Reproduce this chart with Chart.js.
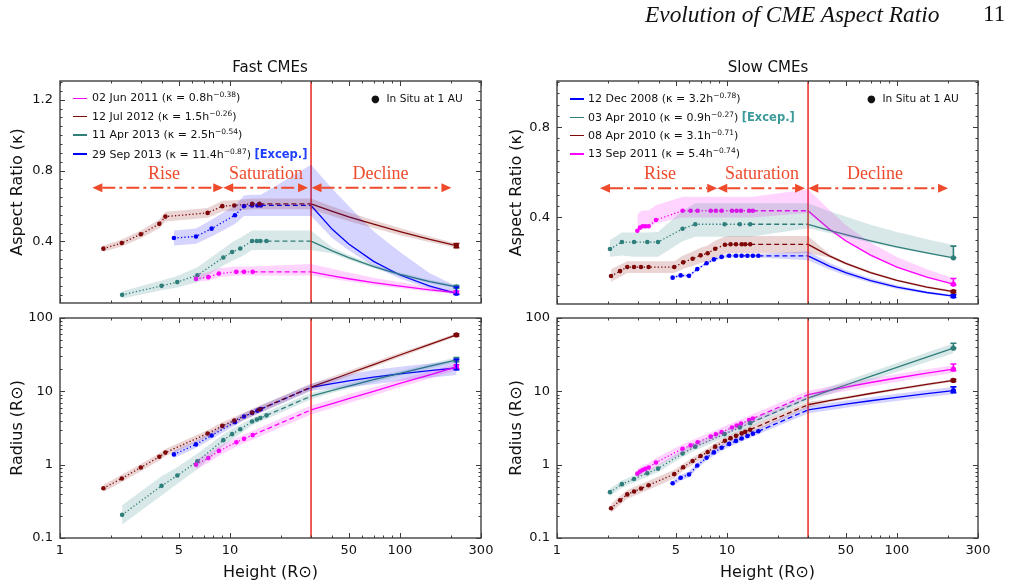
<!DOCTYPE html>
<html><head><meta charset="utf-8">
<script src="https://cdn.jsdelivr.net/npm/chart.js@4.4.1/dist/chart.umd.min.js"></script>
<style>
html,body{margin:0;padding:0;background:#fff;}
#wrap{position:relative;width:1011px;height:586px;overflow:hidden;font-family:"DejaVu Sans",sans-serif;color:#111;}
#wrap canvas{position:absolute;left:0;top:0;}
.tx{position:absolute;white-space:nowrap;}
.tx sup{font-size:7.5px;vertical-align:0;position:relative;top:-4px;}
.ln{position:absolute;height:1.6px;width:14px;}
</style></head><body><div id="wrap">
<canvas id="cFastK" width="1011" height="586"></canvas>
<canvas id="cFastR" width="1011" height="586"></canvas>
<canvas id="cSlowK" width="1011" height="586"></canvas>
<canvas id="cSlowR" width="1011" height="586"></canvas>
</div>
<script>
// ---------------- DATA ----------------
const hTickValues = [1, 5, 10, 50, 100, 300];
const hTickLabels = ['1', '5', '10', '50', '100', '300'];
const fastKTickValues = [0.4, 0.8, 1.2];
const fastKTickLabels = ['0.4', '0.8', '1.2'];
const slowKTickValues = [0.4, 0.8];
const slowKTickLabels = ['0.4', '0.8'];
const rTickValues = [0.1, 1, 10, 100];
const rTickLabels = ['0.1', '1', '10', '100'];
const hMin = 1, hMax = 300;
const fastKMin = 0.052, fastKMax = 1.306;
const slowKMin = 0.015, slowKMax = 1.005;
const rMin = 0.1, rMax = 100;
const phaseBoundaryH = 30;
const declineH = [30, 40, 50, 70, 100, 150, 215];

const phaseNames = ['Rise', 'Saturation', 'Decline'];
const fastPhaseSpans = [[1.55, 9.13], [9.13, 28.8], [30.2, 201]];
const fastPhaseLabelH = [4.09, 16.3, 76.9];
const fastPhaseArrowK = 0.703, fastPhaseLabelK = 0.778;
const slowPhaseSpans = [[1.79, 8.77], [8.77, 28.8], [30.1, 200]];
const slowPhaseLabelH = [4.04, 16.1, 74.3];
const slowPhaseArrowK = 0.529, slowPhaseLabelK = 0.592;

const fastEvents = ['02 Jun 2011', '12 Jul 2012', '11 Apr 2013', '29 Sep 2013'];
const fastFitCoef = ['0.8', '1.5', '2.5', '11.4'];
const fastFitExp = ['−0.38', '−0.26', '−0.54', '−0.87'];
const fastExceptional = [false, false, false, true];
const slowEvents = ['12 Dec 2008', '03 Apr 2010', '08 Apr 2010', '13 Sep 2011'];
const slowFitCoef = ['3.2', '0.9', '3.1', '5.4'];
const slowFitExp = ['−0.78', '−0.27', '−0.71', '−0.74'];
const slowExceptional = [false, true, false, false];

// Fast: 02 Jun 2011
const f1H = [6.31, 7.46, 8.61, 10.9, 12.1, 13.6];
const f1K = [0.188, 0.198, 0.218, 0.228, 0.228, 0.228];
const f1KDec = [0.228, 0.205, 0.189, 0.167, 0.147, 0.126, 0.111];
const f1R = [1.00, 1.23, 1.54, 2.02, 2.25, 2.53];
const f1RDec = [5.57, 6.80, 7.95, 10.0, 12.8, 16.8, 21.5];
const f1KUp = [0.025, 0.028, 0.03, 0.03, 0.03, 0.03, 0.045, 0.04, 0.035, 0.028, 0.022, 0.016, 0.012];
const f1KDn = [0.015, 0.02, 0.02, 0.02, 0.02, 0.02, 0.02, 0.018, 0.016, 0.014, 0.012, 0.01, 0.008];
const f1RF = [1.16, 1.16, 1.16, 1.15, 1.15, 1.15, 1.15, 1.15, 1.15, 1.14, 1.13, 1.12, 1.1];
const f1KErr = [0.008, 0.008], f1RErr = [1.5, 1.0];
// Fast: 12 Jul 2012
const f2H = [1.80, 2.31, 2.99, 3.84, 4.17, 7.39, 9.01, 10.6, 13.5, 14.9];
const f2K = [0.359, 0.391, 0.44, 0.499, 0.54, 0.561, 0.599, 0.603, 0.612, 0.612];
const f2KDec = [0.612, 0.570, 0.539, 0.497, 0.455, 0.411, 0.376];
const f2R = [0.476, 0.649, 0.914, 1.28, 1.46, 2.66, 3.38, 3.99, 5.13, 5.66];
const f2RDec = [11.4, 14.5, 17.5, 23.2, 31.3, 43.7, 58.8];
const f2KUp = [0.018, 0.02, 0.022, 0.025, 0.028, 0.028, 0.03, 0.03, 0.03, 0.03, 0.03, 0.027, 0.025, 0.022, 0.02, 0.016, 0.012];
const f2KDn = [0.018, 0.02, 0.022, 0.025, 0.028, 0.028, 0.03, 0.03, 0.03, 0.03, 0.03, 0.027, 0.025, 0.022, 0.02, 0.016, 0.012];
const f2RF = [1.12, 1.12, 1.12, 1.12, 1.12, 1.12, 1.12, 1.12, 1.12, 1.12, 1.1, 1.1, 1.09, 1.08, 1.07, 1.06, 1.05];
const f2KErr = [0.012, 0.012], f2RErr = [2, 2];
// Fast: 11 Apr 2013
const f3H = [2.32, 3.96, 4.90, 6.43, 9.14, 10.3, 11.5, 13.5, 14.4, 15.1, 16.4];
const f3K = [0.098, 0.149, 0.170, 0.209, 0.309, 0.340, 0.360, 0.402, 0.402, 0.402, 0.402];
const f3KDec = [0.402, 0.346, 0.308, 0.258, 0.214, 0.173, 0.143];
const f3R = [0.207, 0.514, 0.712, 1.11, 2.16, 2.61, 3.04, 3.87, 4.13, 4.33, 4.70];
const f3RDec = [8.60, 10.3, 11.8, 14.4, 17.6, 22.1, 26.9];
const f3KUp = [0.02, 0.03, 0.035, 0.045, 0.05, 0.055, 0.06, 0.06, 0.06, 0.06, 0.06, 0.06, 0.02, 0.015, 0.012, 0.01, 0.01, 0.01];
const f3KDn = [0.02, 0.025, 0.03, 0.04, 0.045, 0.05, 0.05, 0.05, 0.05, 0.05, 0.05, 0.05, 0.015, 0.012, 0.01, 0.01, 0.008, 0.008];
const f3RF = [1.35, 1.35, 1.3, 1.28, 1.2, 1.18, 1.15, 1.12, 1.12, 1.12, 1.12, 1.1, 1.08, 1.08, 1.08, 1.08, 1.08, 1.08];
const f3KErr = [0.008, 0.008], f3RErr = [2, 1.5];
// Fast: 29 Sep 2013
const f4H = [4.68, 6.31, 7.80, 10.7, 12.1, 13.5, 14.5, 15.2];
const f4K = [0.419, 0.428, 0.472, 0.548, 0.599, 0.603, 0.603, 0.603];
const f4KDec = [0.603, 0.468, 0.385, 0.287, 0.210, 0.147, 0.107];
const f4R = [1.38, 1.89, 2.50, 3.79, 4.53, 5.08, 5.45, 5.72];
const f4RDec = [11.3, 12.75, 13.9, 15.6, 17.3, 19.2, 20.8];
const f4KUp = [0.042, 0.045, 0.05, 0.055, 0.06, 0.06, 0.06, 0.06, 0.23, 0.23, 0.215, 0.17, 0.13, 0.073, 0.04];
const f4KDn = [0.042, 0.042, 0.045, 0.05, 0.055, 0.06, 0.06, 0.06, 0.06, 0.05, 0.035, 0.027, 0.02, 0.015, 0.01];
const f4RF = [1.12, 1.12, 1.12, 1.12, 1.12, 1.12, 1.12, 1.12, 1.12, 1.18, 1.22, 1.25, 1.25, 1.25, 1.25];
const f4KErr = [0.035, 0.006], f4RErr = [6.5, 1];

// Slow: 12 Dec 2008
const s1H = [4.79, 5.34, 5.98, 6.69, 7.59, 8.38, 9.30, 10.3, 11.3, 12.2, 13.2, 14.2, 15.3];
const s1K = [0.132, 0.142, 0.140, 0.170, 0.196, 0.213, 0.224, 0.229, 0.229, 0.229, 0.229, 0.229, 0.229];
const s1KDec = [0.229, 0.183, 0.154, 0.119, 0.090, 0.066, 0.050];
const s1R = [0.559, 0.664, 0.734, 0.972, 1.24, 1.47, 1.70, 1.92, 2.11, 2.27, 2.46, 2.65, 2.85];
const s1RDec = [5.59, 6.19, 6.67, 7.44, 8.28, 9.29, 10.2];
const s1KUp = [0.006, 0.006, 0.006, 0.006, 0.006, 0.007, 0.008, 0.008, 0.008, 0.008, 0.008, 0.008, 0.008, 0.02, 0.015, 0.012, 0.01, 0.008, 0.006, 0.005];
const s1KDn = [0.006, 0.006, 0.006, 0.006, 0.006, 0.007, 0.008, 0.008, 0.008, 0.008, 0.008, 0.008, 0.008, 0.02, 0.015, 0.012, 0.01, 0.008, 0.006, 0.005];
const s1RF = [1.1, 1.1, 1.1, 1.1, 1.1, 1.1, 1.1, 1.1, 1.1, 1.1, 1.1, 1.1, 1.1, 1.12, 1.12, 1.12, 1.12, 1.12, 1.12, 1.12];
const s1KErr = [0.006, 0.006], s1RErr = [1.3, 0.6];
// Slow: 03 Apr 2010
const s2H = [2.05, 2.41, 2.84, 3.40, 3.93, 5.48, 6.51, 9.69, 11.9, 13.7];
const s2K = [0.259, 0.290, 0.290, 0.290, 0.290, 0.349, 0.369, 0.369, 0.369, 0.369];
const s2KDec = [0.369, 0.342, 0.323, 0.295, 0.269, 0.242, 0.220];
const s2R = [0.422, 0.542, 0.638, 0.764, 0.883, 1.42, 1.76, 2.61, 3.21, 3.69];
const s2RDec = [8.09, 10.2, 12.2, 16.0, 21.2, 29.2, 38.8];
const s2KUp = [0.04, 0.042, 0.042, 0.042, 0.045, 0.08, 0.093, 0.093, 0.093, 0.093, 0.093, 0.085, 0.08, 0.072, 0.066, 0.06, 0.057];
const s2KDn = [0.034, 0.06, 0.065, 0.065, 0.065, 0.055, 0.055, 0.055, 0.055, 0.055, 0.018, 0.012, 0.01, 0.008, 0.006, 0.004, 0.003];
const s2RF = [1.12, 1.12, 1.12, 1.12, 1.12, 1.12, 1.12, 1.12, 1.12, 1.12, 1.1, 1.12, 1.13, 1.14, 1.15, 1.16, 1.17];
const s2KErr = [0.052, 0.0], s2RErr = [6.4, 0];
// Slow: 08 Apr 2010
const s3H = [2.08, 2.35, 2.59, 2.84, 3.12, 3.46, 4.90, 5.53, 6.28, 7.00, 7.70, 8.53, 9.73, 10.5, 11.3, 12.2, 12.8, 13.7];
const s3K = [0.139, 0.161, 0.179, 0.179, 0.179, 0.179, 0.179, 0.200, 0.216, 0.231, 0.240, 0.260, 0.278, 0.280, 0.280, 0.280, 0.280, 0.280];
const s3KDec = [0.280, 0.229, 0.195, 0.154, 0.120, 0.090, 0.070];
const s3R = [0.254, 0.326, 0.393, 0.431, 0.474, 0.525, 0.744, 0.922, 1.12, 1.31, 1.49, 1.76, 2.12, 2.30, 2.47, 2.67, 2.80, 3.00];
const s3RDec = [6.56, 7.45, 8.16, 9.34, 10.7, 12.4, 14.1];
const s3KUp = [0.03, 0.028, 0.026, 0.026, 0.026, 0.026, 0.026, 0.03, 0.032, 0.034, 0.035, 0.036, 0.037, 0.037, 0.037, 0.037, 0.037, 0.037, 0.037, 0.008, 0.007, 0.006, 0.005, 0.005, 0.005];
const s3KDn = [0.025, 0.026, 0.026, 0.026, 0.026, 0.026, 0.026, 0.03, 0.032, 0.034, 0.036, 0.038, 0.04, 0.04, 0.04, 0.04, 0.04, 0.04, 0.04, 0.008, 0.007, 0.006, 0.005, 0.005, 0.005];
const s3RF = [1.15, 1.15, 1.15, 1.15, 1.15, 1.15, 1.15, 1.12, 1.12, 1.12, 1.12, 1.12, 1.12, 1.12, 1.12, 1.12, 1.12, 1.12, 1.1, 1.05, 1.05, 1.04, 1.04, 1.04, 1.04];
const s3KErr = [0.005, 0.005], s3RErr = [0.5, 0.5];
// Slow: 13 Sep 2011
const s4H = [2.97, 3.08, 3.19, 3.31, 3.46, 3.82, 5.48, 6.11, 6.72, 8.02, 8.61, 9.30, 10.7, 11.4, 12.1, 13.5, 14.2];
const s4K = [0.340, 0.354, 0.360, 0.360, 0.360, 0.388, 0.429, 0.429, 0.429, 0.429, 0.429, 0.429, 0.429, 0.429, 0.429, 0.429, 0.429];
const s4KDec = [0.429, 0.348, 0.296, 0.232, 0.179, 0.134, 0.103];
const s4R = [0.754, 0.805, 0.844, 0.876, 0.916, 1.07, 1.65, 1.83, 2.02, 2.41, 2.59, 2.79, 3.21, 3.42, 3.63, 4.05, 4.26];
const s4RDec = [9.01, 10.3, 11.4, 13.2, 15.2, 17.7, 20.1];
const s4KUp = [0.07, 0.07, 0.07, 0.07, 0.07, 0.065, 0.062, 0.062, 0.062, 0.062, 0.062, 0.062, 0.062, 0.062, 0.062, 0.062, 0.062, 0.095, 0.085, 0.07, 0.055, 0.045, 0.035, 0.026];
const s4KDn = [0.01, 0.01, 0.01, 0.01, 0.01, 0.015, 0.03, 0.03, 0.03, 0.03, 0.03, 0.03, 0.03, 0.03, 0.03, 0.03, 0.03, 0.01, 0.008, 0.006, 0.005, 0.004, 0.004, 0.004];
const s4RF = [1.15, 1.15, 1.15, 1.15, 1.15, 1.15, 1.15, 1.15, 1.15, 1.15, 1.15, 1.15, 1.15, 1.15, 1.15, 1.15, 1.15, 1.13, 1.13, 1.13, 1.13, 1.13, 1.13, 1.13];
const s4KErr = [0.025, 0.003], s4RErr = [3.5, 1];

// ---------------- STYLES ----------------
const C = {
  magenta: {line: '#ff00ff', band: 'rgba(255,0,255,0.17)'},
  maroon: {line: '#7d0a0a', band: 'rgba(128,0,0,0.17)'},
  teal: {line: '#2e7f7a', band: 'rgba(47,127,127,0.19)'},
  blue: {line: '#0000ff', band: 'rgba(0,0,255,0.17)'}
};
const fastSeries = [
  {h: f1H, k: f1K, kDec: f1KDec, r: f1R, rDec: f1RDec, kUp: f1KUp, kDn: f1KDn, rF: f1RF, kErr: f1KErr, rErr: f1RErr, c: C.magenta},
  {h: f2H, k: f2K, kDec: f2KDec, r: f2R, rDec: f2RDec, kUp: f2KUp, kDn: f2KDn, rF: f2RF, kErr: f2KErr, rErr: f2RErr, c: C.maroon},
  {h: f3H, k: f3K, kDec: f3KDec, r: f3R, rDec: f3RDec, kUp: f3KUp, kDn: f3KDn, rF: f3RF, kErr: f3KErr, rErr: f3RErr, c: C.teal},
  {h: f4H, k: f4K, kDec: f4KDec, r: f4R, rDec: f4RDec, kUp: f4KUp, kDn: f4KDn, rF: f4RF, kErr: f4KErr, rErr: f4RErr, c: C.blue}
];
const slowSeries = [
  {h: s1H, k: s1K, kDec: s1KDec, r: s1R, rDec: s1RDec, kUp: s1KUp, kDn: s1KDn, rF: s1RF, kErr: s1KErr, rErr: s1RErr, c: C.blue},
  {h: s2H, k: s2K, kDec: s2KDec, r: s2R, rDec: s2RDec, kUp: s2KUp, kDn: s2KDn, rF: s2RF, kErr: s2KErr, rErr: s2RErr, c: C.teal},
  {h: s3H, k: s3K, kDec: s3KDec, r: s3R, rDec: s3RDec, kUp: s3KUp, kDn: s3KDn, rF: s3RF, kErr: s3KErr, rErr: s3RErr, c: C.maroon},
  {h: s4H, k: s4K, kDec: s4KDec, r: s4R, rDec: s4RDec, kUp: s4KUp, kDn: s4KDn, rF: s4RF, kErr: s4KErr, rErr: s4RErr, c: C.magenta}
];
const FONT = '"DejaVu Sans", sans-serif';
Chart.defaults.font.family = FONT;

function buildDatasets(series, qty, yMin, yMax) {
  const bands = [], lines = [];
  series.forEach(s => {
    const hs = s.h.concat(declineH);
    const vs = qty === 'k' ? s.k.concat(s.kDec) : s.r.concat(s.rDec);
    const lo = vs.map((v, i) => qty === 'k' ? v - s.kDn[i] : v / s.rF[i]);
    const hi = vs.map((v, i) => qty === 'k' ? v + s.kUp[i] : v * s.rF[i]);
    const pts = a => hs.map((h, i) => ({x: h, y: a[i]}));
    bands.push({data: pts(lo), borderWidth: 0, pointRadius: 0, fill: false, borderColor: 'rgba(0,0,0,0)'});
    bands.push({data: pts(hi), borderWidth: 0, pointRadius: 0, fill: '-1', backgroundColor: s.c.band, borderColor: 'rgba(0,0,0,0)'});
    const nObs = s.h.length, lastObs = s.h[nObs - 1];
    lines.push({
      data: pts(vs), borderColor: s.c.line, backgroundColor: s.c.line, borderWidth: 1.3, fill: false,
      pointRadius: hs.map((h, i) => i < nObs ? 2.3 : (i === hs.length - 1 ? 2.6 : 0)),
      pointBorderWidth: 0, pointBackgroundColor: s.c.line,
      errBar: qty === 'k' ? s.kErr : s.rErr,
      segment: {borderDash: c => {
        const x1 = c.p1.parsed.x;
        if (x1 <= lastObs * 1.0001) return [1.3, 2.2];
        if (x1 <= phaseBoundaryH * 1.0001) return [5, 3];
        return [];
      }}
    });
  });
  const vline = {data: [{x: phaseBoundaryH, y: yMin}, {x: phaseBoundaryH, y: yMax}], borderColor: '#e8281e', borderWidth: 1.5, pointRadius: 0, fill: false};
  return bands.concat([vline], lines);
}

const errPlugin = {id: 'errBars', afterDatasetsDraw(chart) {
  const {ctx, scales: {x, y}} = chart;
  chart.data.datasets.forEach(ds => {
    if (!ds.errBar) return;
    const p = ds.data[ds.data.length - 1];
    const px = x.getPixelForValue(p.x);
    const yt = y.getPixelForValue(p.y + ds.errBar[0]);
    const yb = y.getPixelForValue(p.y - ds.errBar[1]);
    ctx.save(); ctx.strokeStyle = ds.borderColor; ctx.lineWidth = 1.6;
    ctx.beginPath(); ctx.moveTo(px, yt); ctx.lineTo(px, yb);
    ctx.moveTo(px - 3, yt); ctx.lineTo(px + 3, yt);
    ctx.moveTo(px - 3, yb); ctx.lineTo(px + 3, yb); ctx.stroke(); ctx.restore();
  });
}};

function framePlugin(o) { return {id: 'frame', afterDatasetsDraw(chart) {
  const {ctx, chartArea: a, scales: {x, y}} = chart;
  ctx.save(); ctx.strokeStyle = '#3a3a3a'; ctx.lineWidth = 1;
  const tickX = (v, L) => { const p = Math.round(x.getPixelForValue(v)) + 0.5; if (p < a.left - 1 || p > a.right + 1) return;
    ctx.beginPath(); ctx.moveTo(p, a.bottom); ctx.lineTo(p, a.bottom - L); ctx.moveTo(p, a.top); ctx.lineTo(p, a.top + L); ctx.stroke(); };
  const tickY = (v, L) => { const p = Math.round(y.getPixelForValue(v)) + 0.5; if (p < a.top - 1 || p > a.bottom + 1) return;
    ctx.beginPath(); ctx.moveTo(a.left, p); ctx.lineTo(a.left + L, p); ctx.moveTo(a.right, p); ctx.lineTo(a.right - L, p); ctx.stroke(); };
  hTickValues.forEach(v => tickX(v, 5));
  [1, 10, 100].forEach(d => { for (let m = 2; m <= 9; m++) { const v = m * d; if (v <= hMax && !hTickValues.includes(v)) tickX(v, 2.5); } });
  o.yTicks.forEach(v => tickY(v, 5));
  if (o.yType === 'logarithmic') {
    [0.1, 1, 10].forEach(d => { for (let m = 2; m <= 9; m++) tickY(m * d, 2.5); });
  } else {
    for (let i = Math.ceil(o.yMin / o.yMinor); i * o.yMinor <= o.yMax; i++) {
      const v = Math.round(i * o.yMinor * 1000) / 1000;
      if (!o.yTicks.some(t => Math.abs(t - v) < 1e-6)) tickY(v, 2.5);
    }
  }
  ctx.lineWidth = 1.4; ctx.strokeStyle = '#404040';
  ctx.strokeRect(a.left, a.top, a.right - a.left, a.bottom - a.top);
  ctx.restore();
}}; }

function phasePlugin(p) { return {id: 'phases', afterDatasetsDraw(chart) {
  const {ctx, scales: {x, y}} = chart;
  ctx.save();
  const col = '#ee4a2c'; ctx.strokeStyle = col; ctx.fillStyle = col; ctx.lineWidth = 2;
  const ya = y.getPixelForValue(p.arrowK), hl = 10;
  p.spans.forEach(([h1, h2]) => {
    const x1 = x.getPixelForValue(h1), x2 = x.getPixelForValue(h2);
    ctx.setLineDash([13, 4, 3, 4]); ctx.beginPath(); ctx.moveTo(x1 + hl, ya); ctx.lineTo(x2 - hl, ya); ctx.stroke(); ctx.setLineDash([]);
    [[x1, -1], [x2, 1]].forEach(([xx, d]) => { ctx.beginPath(); ctx.moveTo(xx, ya); ctx.lineTo(xx - d * hl, ya - 4.5); ctx.lineTo(xx - d * hl, ya + 4.5); ctx.closePath(); ctx.fill(); });
  });
  ctx.font = '18px "Liberation Serif", "Times New Roman", serif'; ctx.textAlign = 'center'; ctx.textBaseline = 'middle';
  const yl = y.getPixelForValue(p.labelK);
  phaseNames.forEach((t, i) => ctx.fillText(t, x.getPixelForValue(p.labelH[i]), yl));
  ctx.restore();
}}; }

function makeChart(id, o) {
  const datasets = buildDatasets(o.series, o.qty, o.yMin, o.yMax);
  const plugins = [framePlugin(o), errPlugin];
  if (o.phases) plugins.push(phasePlugin(o.phases));
  return new Chart(document.getElementById(id), {
    type: 'line', data: {datasets},
    options: {
      responsive: false, animation: false, events: [],
      layout: {padding: o.pad},
      elements: {line: {tension: 0}},
      plugins: {legend: {display: false}, tooltip: {enabled: false}, title: {display: false}},
      scales: {
        x: {type: 'logarithmic', position: 'bottom', min: hMin, max: hMax,
          grid: {display: false, drawTicks: false}, border: {display: false},
          afterBuildTicks: s => { s.ticks = hTickValues.map(v => ({value: v})); },
          afterFit: s => { s.height = o.xH; },
          ticks: {display: o.showX, autoSkip: false, maxRotation: 0, minRotation: 0, padding: 5, color: '#111', font: {size: 13},
            callback: v => { const i = hTickValues.indexOf(v); return i >= 0 ? hTickLabels[i] : ''; }},
          title: {display: o.showX, text: 'Height (R⊙)', color: '#111', font: {size: 16}, padding: {top: 0, bottom: 4}}},
        y: {type: o.yType, position: 'left', min: o.yMin, max: o.yMax,
          grid: {display: false, drawTicks: false}, border: {display: false},
          afterBuildTicks: s => { s.ticks = o.yTicks.map(v => ({value: v})); },
          afterFit: s => { s.width = 60; },
          ticks: {autoSkip: false, padding: 7, color: '#111', font: {size: 13},
            callback: v => { const i = o.yTicks.indexOf(v); return i >= 0 ? o.yLabels[i] : ''; }},
          title: {display: true, text: o.yTitle, color: '#111', font: {size: 16}, padding: {top: o.titlePad, bottom: 0}}}
      }
    },
    plugins
  });
}

makeChart('cFastK', {series: fastSeries, qty: 'k', yType: 'linear', yMin: fastKMin, yMax: fastKMax, yMinor: 0.05,
  yTicks: fastKTickValues, yLabels: fastKTickLabels, yTitle: 'Aspect Ratio (κ)', titlePad: 8,
  pad: {left: 0, top: 81, right: 530, bottom: 283}, xH: 0, showX: false,
  phases: {spans: fastPhaseSpans, labelH: fastPhaseLabelH, arrowK: fastPhaseArrowK, labelK: fastPhaseLabelK}});
makeChart('cFastR', {series: fastSeries, qty: 'r', yType: 'logarithmic', yMin: rMin, yMax: rMax,
  yTicks: rTickValues, yLabels: rTickLabels, yTitle: 'Radius (R⊙)', titlePad: 8,
  pad: {left: 0, top: 318, right: 530, bottom: 0}, xH: 48, showX: true});
makeChart('cSlowK', {series: slowSeries, qty: 'k', yType: 'linear', yMin: slowKMin, yMax: slowKMax, yMinor: 0.05,
  yTicks: slowKTickValues, yLabels: slowKTickLabels, yTitle: 'Aspect Ratio (κ)', titlePad: 10,
  pad: {left: 497, top: 81, right: 33, bottom: 282}, xH: 0, showX: false,
  phases: {spans: slowPhaseSpans, labelH: slowPhaseLabelH, arrowK: slowPhaseArrowK, labelK: slowPhaseLabelK}});
makeChart('cSlowR', {series: slowSeries, qty: 'r', yType: 'logarithmic', yMin: rMin, yMax: rMax,
  yTicks: rTickValues, yLabels: rTickLabels, yTitle: 'Radius (R⊙)', titlePad: 10,
  pad: {left: 497, top: 318, right: 33, bottom: 0}, xH: 48, showX: true});

// ---------------- TEXT OVERLAYS ----------------
const wrap = document.getElementById('wrap');
function addText(html, css) { const d = document.createElement('div'); d.className = 'tx'; d.innerHTML = html; Object.assign(d.style, css); wrap.appendChild(d); return d; }
addText('Evolution of CME Aspect Ratio', {left: '645px', top: '1px', font: 'italic 23.4px "Liberation Serif", serif', color: '#111'});
addText('11', {left: '983px', top: '1px', font: '23px "Liberation Serif", serif', color: '#111'});
addText('Fast CMEs', {left: '170px', width: '200px', textAlign: 'center', top: '58px', font: '15px ' + FONT});
addText('Slow CMEs', {left: '668px', width: '200px', textAlign: 'center', top: '58px', font: '15px ' + FONT});

function addLegend(events, coef, exps, excep, colors, lineX, textX, rowsY, excepColor) {
  events.forEach((ev, i) => {
    const ln = document.createElement('div'); ln.className = 'ln';
    Object.assign(ln.style, {left: lineX + 'px', top: (rowsY[i] - 0.8) + 'px', background: colors[i].line});
    wrap.appendChild(ln);
    let html = ev + ' (κ = ' + coef[i] + 'h<sup>' + exps[i] + '</sup>)';
    if (excep[i]) html += ' <b style="color:' + excepColor + ';font-size:11.5px">[Excep.]</b>';
    addText(html, {left: textX + 'px', top: (rowsY[i] - 7) + 'px', font: '11px ' + FONT, lineHeight: '14px'});
  });
}
addLegend(fastEvents, fastFitCoef, fastFitExp, fastExceptional, [C.magenta, C.maroon, C.teal, C.blue], 73, 92, [98.3, 116.7, 135, 154], '#1f3fff');
addLegend(slowEvents, slowFitCoef, slowFitExp, slowExceptional, [C.blue, C.teal, C.maroon, C.magenta], 570, 588, [99, 117.3, 135.7, 154], '#3d9a9a');
addText('<span style="font-size:10px">●</span>&nbsp; In Situ at 1 AU', {left: '371px', top: '91px', font: '10.6px ' + FONT, lineHeight: '14px'});
addText('<span style="font-size:10px">●</span>&nbsp; In Situ at 1 AU', {left: '867px', top: '91px', font: '10.6px ' + FONT, lineHeight: '14px'});
</script></body></html>
